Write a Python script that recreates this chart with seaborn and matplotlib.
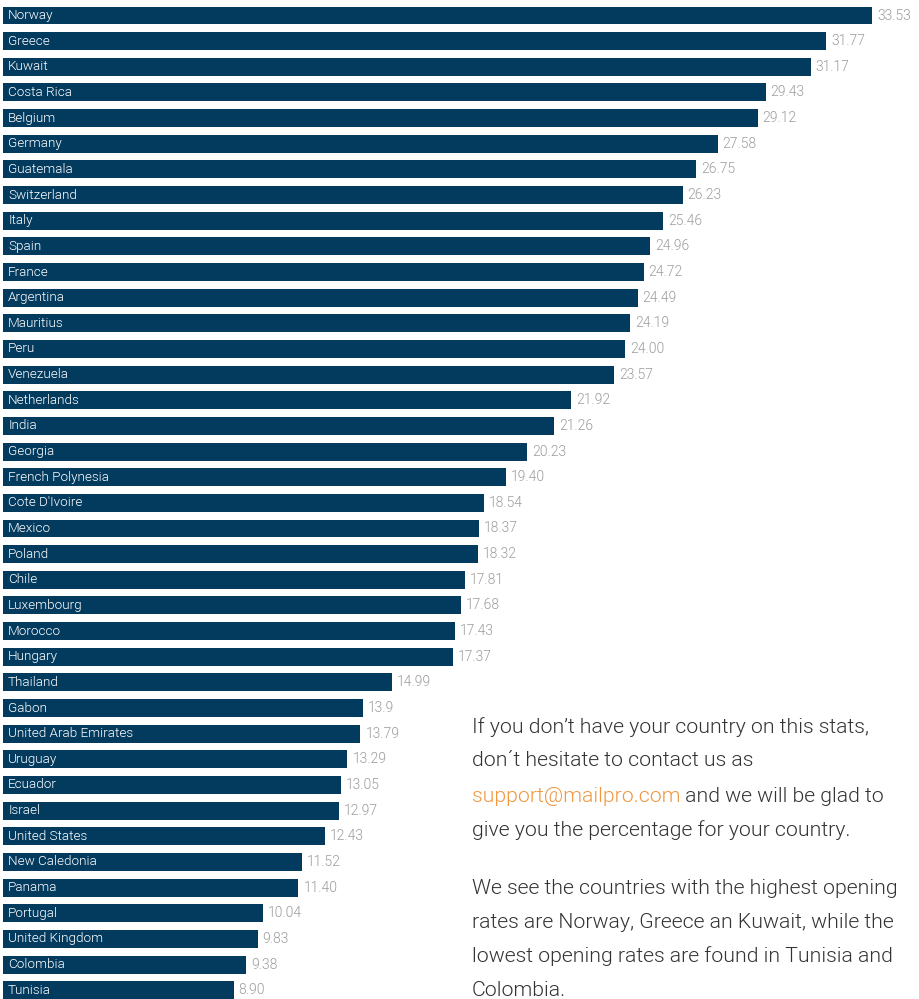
import matplotlib
matplotlib.use("Agg")
import matplotlib.pyplot as plt
import seaborn as sns
import pandas as pd

countries = ["Norway", "Greece", "Kuwait", "Costa Rica", "Belgium", "Germany", "Guatemala",
             "Switzerland", "Italy", "Spain", "France", "Argentina", "Mauritius", "Peru",
             "Venezuela", "Netherlands", "India", "Georgia", "French Polynesia", "Cote D'Ivoire",
             "Mexico", "Poland", "Chile", "Luxembourg", "Morocco", "Hungary", "Thailand", "Gabon",
             "United Arab Emirates", "Uruguay", "Ecuador", "Israel", "United States",
             "New Caledonia", "Panama", "Portugal", "United Kingdom", "Colombia", "Tunisia"]
values = [33.53, 31.77, 31.17, 29.43, 29.12, 27.58, 26.75, 26.23, 25.46, 24.96, 24.72, 24.49,
          24.19, 24.00, 23.57, 21.92, 21.26, 20.23, 19.40, 18.54, 18.37, 18.32, 17.81, 17.68,
          17.43, 17.37, 14.99, 13.9, 13.79, 13.29, 13.05, 12.97, 12.43, 11.52, 11.40, 10.04,
          9.83, 9.38, 8.90]
value_labels = ["33.53", "31.77", "31.17", "29.43", "29.12", "27.58", "26.75", "26.23", "25.46",
                "24.96", "24.72", "24.49", "24.19", "24.00", "23.57", "21.92", "21.26", "20.23",
                "19.40", "18.54", "18.37", "18.32", "17.81", "17.68", "17.43", "17.37", "14.99",
                "13.9", "13.79", "13.29", "13.05", "12.97", "12.43", "11.52", "11.40", "10.04",
                "9.83", "9.38", "8.90"]

df = pd.DataFrame({"country": countries, "value": values})

BAR = "#033b5f"
FONT = ["Roboto", "DejaVu Sans"]
plt.rcParams["font.family"] = FONT
WT = 300

W, H = 919, 999
fig = plt.figure(figsize=(W / 100, H / 100), dpi=100)
ax = fig.add_axes([3 / W, 0, 1 - 3 / W, 1])

sns.barplot(data=df, x="value", y="country", color=BAR, saturation=1, width=0.7,
            orient="h", ax=ax)

px_per_unit = 25.92
ax.set_xlim(0, (W - 3) / px_per_unit)
pitch = 25.65
ax.set_ylim((H - 15.5) / pitch, -15.5 / pitch)
ax.axis("off")

for i, (c, v, lab) in enumerate(zip(countries, values, value_labels)):
    ax.annotate(c, xy=(0, i), xytext=(3.7, 0), textcoords="offset points",
                va="center", ha="left", color="white", fontsize=9.7, fontweight=WT)
    ax.annotate(lab, xy=(v, i), xytext=(3.5, 0), textcoords="offset points",
                va="center", ha="left", color="#9c9c9c", fontsize=10, fontweight=WT)

# Text block
TXT = "#333333"
ORANGE = "#f0973f"
fs = 15.3
x0 = 472 / W
lines_y = [727, 761, 796, 830, 888, 922, 956, 990]
def fy(p):
    return 1 - p / H

fig.text(x0, fy(lines_y[0]), "If you don\u2019t have your country on this stats,", color=TXT,
         fontsize=fs, fontweight=WT, va="center")
fig.text(x0, fy(lines_y[1]), "don\u00b4t hesitate to contact us as", color=TXT,
         fontsize=fs, fontweight=WT, va="center")
em = fig.text(x0, fy(lines_y[2]), "support@mailpro.com", color=ORANGE,
              fontsize=fs, fontweight=WT, va="center")
ax.annotate(" and we will be glad to", xy=(1, 0.5), xycoords=em, va="center", ha="left",
            color=TXT, fontsize=fs, fontweight=WT, annotation_clip=False)
fig.text(x0, fy(lines_y[3]), "give you the percentage for your country.", color=TXT,
         fontsize=fs, fontweight=WT, va="center")
fig.text(x0, fy(lines_y[4]), "We see the countries with the highest opening", color=TXT,
         fontsize=fs, fontweight=WT, va="center")
fig.text(x0, fy(lines_y[5]), "rates are Norway, Greece an Kuwait, while the", color=TXT,
         fontsize=fs, fontweight=WT, va="center")
fig.text(x0, fy(lines_y[6]), "lowest opening rates are found in Tunisia and", color=TXT,
         fontsize=fs, fontweight=WT, va="center")
fig.text(x0, fy(lines_y[7]), "Colombia.", color=TXT,
         fontsize=fs, fontweight=WT, va="center")

fig.savefig("out.png", dpi=100)
